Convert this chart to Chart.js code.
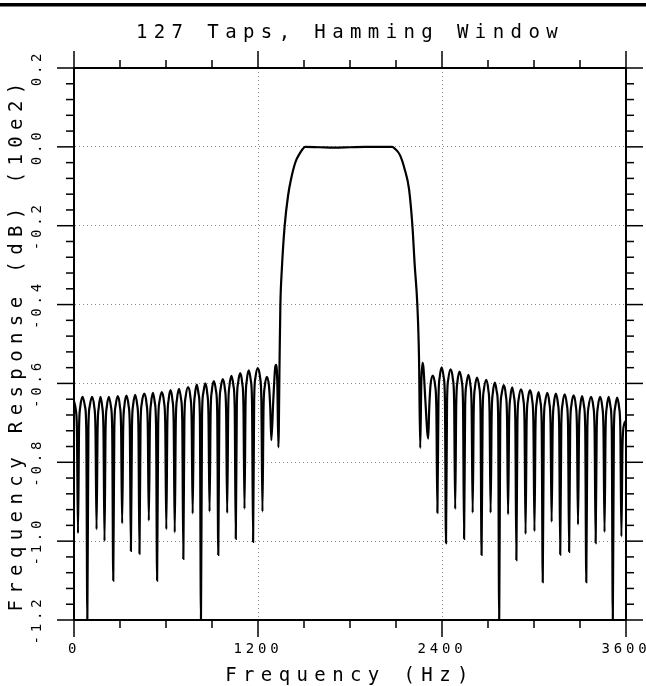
<!DOCTYPE html>
<html><head><meta charset="utf-8">
<script src="https://cdn.jsdelivr.net/npm/chart.js@4.4.1/dist/chart.umd.min.js"></script>
<style>html,body{margin:0;padding:0;background:#fff}canvas{display:block}</style>
</head><body>
<canvas id="c" width="646" height="686"></canvas>
<script>
// ---- text ----
const chartTitle = '127 Taps, Hamming Window';
const xAxisTitle = 'Frequency (Hz)';
const yAxisTitle = 'Frequency Response (dB) (10e2)';

// ---- axes / ticks ----
const xMin = 0, xMax = 3600, xStep = 300, xMajorStep = 1200;
const yMin = -1.2, yMax = 0.2, yStep = 0.04, yMajorStep = 0.2;

// ---- data (frequency in Hz, response in dB x 1/100) ----
const leftStopFreq = [
  0, 11, 19, 26,
  33, 41, 56, 72, 80, 87,
  94, 102, 117, 132, 140, 147,
  154, 162, 173, 184, 192, 199,
  206, 214, 228, 241, 249, 256,
  263, 271, 285, 299, 307, 314,
  321, 329, 342, 356, 364, 371,
  378, 386, 399, 412, 420, 427,
  434, 442, 458, 473, 481, 488,
  495, 503, 515, 527, 535, 542,
  549, 557, 572, 587, 595, 602,
  609, 617, 630, 642, 650, 657,
  664, 672, 685, 698, 706, 713,
  720, 728, 744, 759, 767, 774,
  781, 789, 801, 813, 821, 828,
  835, 843, 856, 869, 877, 884,
  891, 899, 912, 926, 934, 941,
  948, 956, 970, 984, 992, 999,
  1006, 1014, 1027, 1040, 1048, 1055,
  1062, 1070, 1084, 1097, 1105, 1112,
  1119, 1127, 1140, 1153, 1161, 1168,
  1175, 1183, 1198, 1214, 1222, 1229,
  1236, 1244, 1258, 1272, 1280, 1287,
  1300, 1312, 1318, 1326, 1333
];
const leftStopResp = [
  -0.645, -0.665, -0.715, -0.98,
  -0.714, -0.659, -0.634, -0.659, -0.714, -1.2,
  -0.714, -0.659, -0.634, -0.659, -0.714, -0.97,
  -0.714, -0.659, -0.634, -0.659, -0.714, -1.0,
  -0.714, -0.659, -0.634, -0.659, -0.714, -1.10,
  -0.712, -0.657, -0.632, -0.657, -0.712, -0.955,
  -0.711, -0.656, -0.631, -0.656, -0.711, -1.025,
  -0.709, -0.654, -0.629, -0.654, -0.709, -1.032,
  -0.706, -0.651, -0.626, -0.651, -0.706, -0.948,
  -0.704, -0.649, -0.624, -0.649, -0.704, -1.10,
  -0.702, -0.647, -0.622, -0.647, -0.702, -0.97,
  -0.697, -0.642, -0.617, -0.642, -0.697, -0.978,
  -0.694, -0.639, -0.614, -0.639, -0.694, -1.045,
  -0.689, -0.634, -0.609, -0.634, -0.689, -0.93,
  -0.683, -0.628, -0.603, -0.628, -0.683, -1.2,
  -0.680, -0.625, -0.600, -0.625, -0.680, -0.925,
  -0.674, -0.619, -0.594, -0.619, -0.674, -1.035,
  -0.669, -0.614, -0.589, -0.614, -0.669, -0.929,
  -0.661, -0.606, -0.581, -0.606, -0.661, -0.994,
  -0.654, -0.599, -0.574, -0.599, -0.654, -0.918,
  -0.647, -0.592, -0.567, -0.592, -0.647, -1.002,
  -0.641, -0.586, -0.561, -0.586, -0.641, -0.925,
  -0.663, -0.608, -0.583, -0.608, -0.663, -0.744,
  -0.64, -0.56, -0.553, -0.60, -0.762
];
const passFreq = [1341, 1346, 1355, 1374, 1396, 1416, 1444, 1472, 1509, 1600, 1700, 1800, 1900, 2000, 2076, 2091, 2126, 2156, 2185, 2207, 2222, 2239, 2250];
const passResp = [-0.533, -0.4, -0.314, -0.2, -0.124, -0.081, -0.039, -0.017, 0.0, -0.001, -0.002, -0.001, 0.0, 0.0, 0.0, -0.004, -0.021, -0.056, -0.107, -0.2, -0.3, -0.4, -0.533];
const rightStopFreq = [
  2258, 2265, 2273, 2279, 2291, 2310,
  2317, 2325, 2340, 2355, 2363, 2370,
  2377, 2385, 2398, 2411, 2419, 2426,
  2433, 2441, 2456, 2471, 2479, 2486,
  2493, 2501, 2515, 2529, 2537, 2544,
  2551, 2559, 2572, 2585, 2593, 2600,
  2607, 2615, 2629, 2643, 2651, 2658,
  2665, 2673, 2688, 2702, 2710, 2717,
  2724, 2732, 2745, 2758, 2766, 2773,
  2780, 2788, 2802, 2816, 2824, 2831,
  2838, 2846, 2858, 2870, 2878, 2885,
  2892, 2900, 2915, 2930, 2938, 2945,
  2952, 2960, 2974, 2988, 2996, 3003,
  3010, 3018, 3030, 3042, 3050, 3057,
  3064, 3072, 3086, 3100, 3108, 3115,
  3122, 3130, 3143, 3156, 3164, 3171,
  3178, 3186, 3200, 3214, 3222, 3229,
  3236, 3244, 3258, 3272, 3280, 3287,
  3294, 3302, 3314, 3326, 3334, 3341,
  3348, 3356, 3372, 3387, 3395, 3402,
  3409, 3417, 3431, 3445, 3453, 3460,
  3467, 3475, 3487, 3499, 3507, 3514,
  3521, 3529, 3542, 3555, 3563, 3570,
  3577, 3587, 3600
];
const rightStopResp = [
  -0.764, -0.60, -0.548, -0.56, -0.64, -0.740,
  -0.660, -0.605, -0.580, -0.605, -0.660, -0.928,
  -0.639, -0.584, -0.559, -0.584, -0.639, -1.005,
  -0.644, -0.589, -0.564, -0.589, -0.644, -0.919,
  -0.650, -0.595, -0.570, -0.595, -0.650, -0.994,
  -0.658, -0.603, -0.578, -0.603, -0.658, -0.928,
  -0.665, -0.610, -0.585, -0.610, -0.665, -1.035,
  -0.671, -0.616, -0.591, -0.616, -0.671, -0.928,
  -0.678, -0.623, -0.598, -0.623, -0.678, -1.2,
  -0.684, -0.629, -0.604, -0.629, -0.684, -0.932,
  -0.690, -0.635, -0.610, -0.635, -0.690, -1.048,
  -0.695, -0.640, -0.615, -0.640, -0.695, -0.982,
  -0.697, -0.642, -0.617, -0.642, -0.697, -0.975,
  -0.702, -0.647, -0.622, -0.647, -0.702, -1.104,
  -0.704, -0.649, -0.624, -0.649, -0.704, -0.951,
  -0.706, -0.651, -0.626, -0.651, -0.706, -1.034,
  -0.708, -0.653, -0.628, -0.653, -0.708, -1.027,
  -0.710, -0.655, -0.630, -0.655, -0.710, -0.958,
  -0.712, -0.657, -0.632, -0.657, -0.712, -1.104,
  -0.714, -0.659, -0.634, -0.659, -0.714, -1.005,
  -0.714, -0.659, -0.634, -0.659, -0.714, -0.977,
  -0.714, -0.659, -0.634, -0.659, -0.714, -1.2,
  -0.716, -0.661, -0.636, -0.661, -0.716, -0.988,
  -0.76, -0.705, -0.695
];

const freqHz = leftStopFreq.concat(passFreq, rightStopFreq);
const responseDb = leftStopResp.concat(passResp, rightStopResp);
const points = freqHz.map((f, i) => ({ x: f, y: responseDb[i] }));

// ---- fixed-pitch, wide plotter-style lettering ----
const canvas = document.getElementById('c');
const ctx = canvas.getContext('2d');
const proto = CanvasRenderingContext2D.prototype;
function applySpacing(c) {
  const m = /(\d+(?:\.\d+)?)px/.exec(c.font);
  const s = m ? parseFloat(m[1]) : 12;
  c.letterSpacing = (s >= 16 ? 6.4 : 3.8) + 'px';
}
ctx.fillText = function (t, x, y, w) { applySpacing(this); return w === undefined ? proto.fillText.call(this, t, x, y) : proto.fillText.call(this, t, x, y, w); };
ctx.measureText = function (t) { applySpacing(this); return proto.measureText.call(this, t); };

const isMajor = (v, step) => Math.abs(v / step - Math.round(v / step)) < 1e-6;
const FONT = "'DejaVu Sans Mono'";

const frameMarks = {
  id: 'frameMarks',
  afterDraw(chart) {
    const c = chart.ctx, a = chart.chartArea;
    c.save();
    c.letterSpacing = '0px';
    c.fillStyle = '#000';
    c.fillRect(0, 3, chart.width, 3.5);
    c.strokeStyle = '#000';
    c.lineWidth = 1.5;
    const seg = (x1, y1, x2, y2) => { c.beginPath(); c.moveTo(x1, y1); c.lineTo(x2, y2); c.stroke(); };
    const xs = chart.scales.x, ys = chart.scales.y;
    xs.ticks.forEach(t => {
      const p = xs.getPixelForValue(t.value);
      const L = isMajor(t.value, xMajorStep) ? 17 : 8;
      seg(p, a.bottom, p, a.bottom + L);
      seg(p, a.top, p, a.top - L);
    });
    ys.ticks.forEach(t => {
      const p = ys.getPixelForValue(t.value);
      const L = isMajor(t.value, yMajorStep) ? 17 : 8;
      seg(a.left, p, a.left - L, p);
      seg(a.right, p, a.right + L, p);
    });
    c.restore();
  }
};

const gridColor = (ctxs, step) => {
  const v = ctxs.tick ? ctxs.tick.value : NaN;
  return (isMajor(v, step) && ctxs.index !== 0 && ctxs.index !== ctxs.scale.ticks.length - 1) ? '#8a8a8a' : 'rgba(0,0,0,0)';
};

new Chart(ctx, {
  type: 'line',
  data: {
    datasets: [{
      data: points,
      borderColor: '#000',
      borderWidth: 2.2,
      pointRadius: 0,
      cubicInterpolationMode: 'monotone',
      fill: false
    }]
  },
  plugins: [frameMarks],
  options: {
    responsive: false,
    animation: false,
    devicePixelRatio: 1,
    layout: { padding: 0 },
    plugins: {
      legend: { display: false },
      tooltip: { enabled: false },
      title: {
        display: true,
        text: chartTitle,
        fullSize: false,
        color: '#000',
        font: { family: FONT, size: 19, weight: 'normal' },
        padding: { top: 21.6, bottom: 0 }
      }
    },
    scales: {
      x: {
        type: 'linear', position: 'bottom', min: xMin, max: xMax,
        afterFit: s => { s.height = 66; s.paddingLeft = 0; s.paddingRight = 0; },
        ticks: {
          stepSize: xStep, autoSkip: false, maxRotation: 0, minRotation: 0, padding: 21,
          color: '#000', font: { family: FONT, size: 14 },
          callback: v => isMajor(v, xMajorStep) ? String(Math.round(v)) : ''
        },
        grid: { drawTicks: false, lineWidth: 1, color: c => gridColor(c, xMajorStep) },
        border: { display: true, color: '#000', width: 2, dash: [1, 3] },
        title: { display: true, text: xAxisTitle, color: '#000', font: { family: FONT, size: 19 }, padding: { top: 0, bottom: -1 } }
      },
      x2: {
        type: 'linear', position: 'top', min: xMin, max: xMax,
        afterFit: s => { s.height = 68 - 44.4; s.paddingLeft = 0; s.paddingRight = 0; },
        ticks: { display: false, stepSize: xStep },
        grid: { display: true, drawOnChartArea: false, drawTicks: false },
        border: { display: true, color: '#000', width: 2 }
      },
      y: {
        type: 'linear', position: 'left', min: yMin, max: yMax,
        afterFit: s => { s.width = 74; s.paddingTop = 0; s.paddingBottom = 0; },
        ticks: {
          stepSize: yStep, autoSkip: false, minRotation: 90, maxRotation: 90, crossAlign: 'center', padding: 12.5,
          color: '#000', font: { family: FONT, size: 14 },
          callback: v => isMajor(v, yMajorStep) ? (Math.abs(v) < 1e-9 ? '0.0' : v.toFixed(1)) : ''
        },
        grid: { drawTicks: false, lineWidth: 1, color: c => gridColor(c, yMajorStep) },
        border: { display: true, color: '#000', width: 2, dash: [1, 3] },
        title: { display: true, text: yAxisTitle, color: '#000', font: { family: FONT, size: 19 }, padding: { top: 6, bottom: 0 } }
      },
      y2: {
        type: 'linear', position: 'right', min: yMin, max: yMax,
        afterFit: s => { s.width = 20; s.paddingTop = 0; s.paddingBottom = 0; },
        ticks: { display: false, stepSize: yStep },
        grid: { display: true, drawOnChartArea: false, drawTicks: false },
        border: { display: true, color: '#000', width: 2 }
      }
    }
  }
});
</script>
</body></html>
